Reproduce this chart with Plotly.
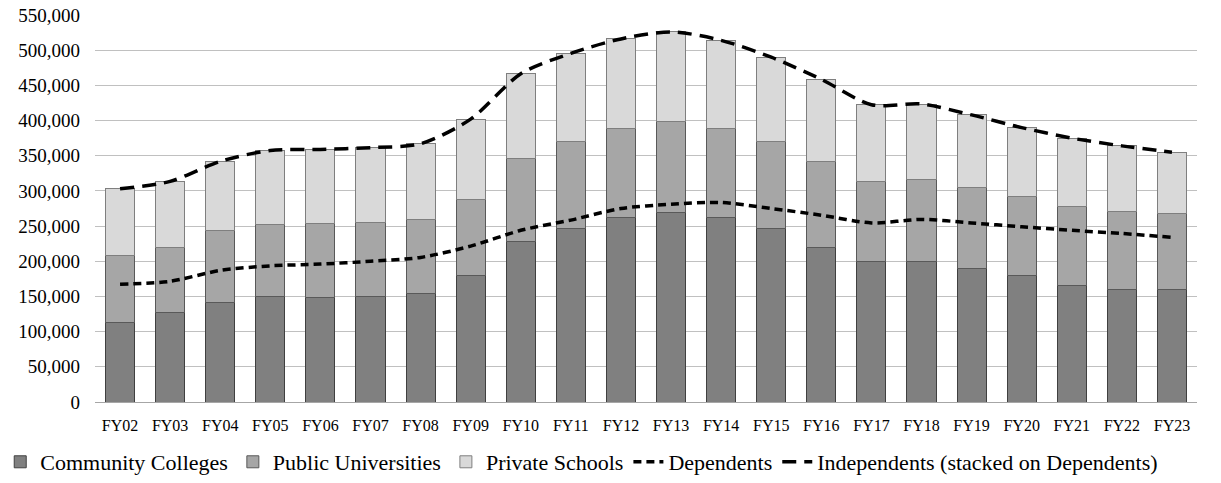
import plotly.graph_objects as go

categories = ["FY02", "FY03", "FY04", "FY05", "FY06", "FY07", "FY08", "FY09", "FY10", "FY11", "FY12",
              "FY13", "FY14", "FY15", "FY16", "FY17", "FY18", "FY19", "FY20", "FY21", "FY22", "FY23"]

community_colleges = [113000, 126500, 142000, 150000, 149000, 150000, 154000, 179500, 228000, 246500, 262000,
                      270000, 262000, 246500, 219000, 199500, 199500, 189500, 179500, 165500, 160500, 160500]
public_universities = [95000, 93000, 101500, 102500, 104500, 105500, 105500, 108500, 117500, 123500, 127000,
                       129000, 127000, 123500, 123000, 114000, 117000, 115500, 112000, 112000, 110500, 107000]
private_schools = [95000, 94000, 98500, 105000, 105500, 106000, 107500, 114000, 121000, 125500, 127000,
                   127000, 125000, 120000, 116500, 109000, 107000, 103000, 98500, 97500, 93000, 87500]
dependents = [167500, 171500, 187000, 193500, 196000, 200000, 205500, 221500, 244000, 258500, 275000,
              281000, 283500, 275000, 265500, 254500, 259500, 254500, 249000, 244000, 239500, 234000]
independents = [135500, 142000, 155000, 164000, 163000, 161500, 161500, 180500, 222500, 237000, 241000,
                245000, 230500, 215000, 193000, 168000, 164000, 153500, 141000, 131000, 124500, 121000]

stacked_independents = [d + i for d, i in zip(dependents, independents)]

FONT = "Liberation Serif"

fig = go.Figure()
fig.add_trace(go.Bar(x=categories, y=community_colleges, name="Community Colleges",
                     marker=dict(color="#808080", line=dict(color="#404040", width=1))))
fig.add_trace(go.Bar(x=categories, y=public_universities, name="Public Universities",
                     marker=dict(color="#a6a6a6", line=dict(color="#595959", width=1))))
fig.add_trace(go.Bar(x=categories, y=private_schools, name="Private Schools",
                     marker=dict(color="#d9d9d9", line=dict(color="#7f7f7f", width=1))))
fig.add_trace(go.Scatter(x=categories, y=dependents, name="Dependents", mode="lines",
                         line=dict(color="black", width=3.5, dash="8px,5px", shape="spline", smoothing=0.8)))
fig.add_trace(go.Scatter(x=categories, y=stacked_independents, name="Independents (stacked on Dependents)",
                         mode="lines",
                         line=dict(color="black", width=3.5, dash="14px,8px", shape="spline", smoothing=0.8)))

fig.update_layout(
    width=1221, height=483,
    margin=dict(l=95, r=24, t=15, b=81, autoexpand=False),
    barmode="stack", bargap=0.42,
    plot_bgcolor="white", paper_bgcolor="white",
    font=dict(family=FONT, color="black"),
    showlegend=True,
    legend=dict(orientation="h", x=-0.086, xanchor="left", y=-0.155, yanchor="middle",
                font=dict(family=FONT, size=22, color="black"), traceorder="normal",
                itemwidth=30, tracegroupgap=0, bgcolor="rgba(0,0,0,0)"),
)
fig.update_yaxes(range=[0, 550000], dtick=50000, tickformat=",d", showgrid=True,
                 gridcolor="#c0c0c0", gridwidth=1, zeroline=False, showline=False,
                 tickfont=dict(family=FONT, size=19, color="black"), ticklabelstandoff=14)
fig.update_xaxes(showline=True, linecolor="#a6a6a6", linewidth=1, showgrid=False,
                 tickfont=dict(family=FONT, size=16, color="black"), ticklabelstandoff=9)

fig.write_html("out.html", config={"displayModeBar": False},
               post_script="document.body.style.margin='0px';")
